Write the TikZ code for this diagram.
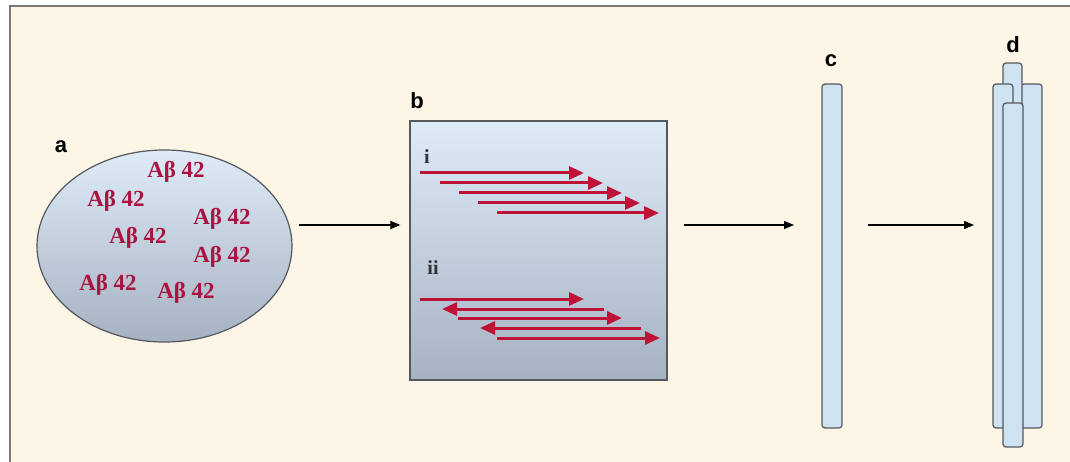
\documentclass[tikz,border=0pt]{standalone}
\usepackage{fontspec}
\setmainfont{Liberation Serif}
\setsansfont{Liberation Sans}
\usetikzlibrary{arrows.meta,calc,shapes.geometric}
\definecolor{paper}{RGB}{253,245,229}
\definecolor{framegray}{RGB}{120,120,120}
\definecolor{edge}{RGB}{85,88,95}
\definecolor{skytop}{RGB}{222,235,247}
\definecolor{skybot}{RGB}{166,178,194}
\definecolor{rodblue}{RGB}{206,226,242}
\definecolor{abred}{RGB}{170,20,65}
\definecolor{strand}{RGB}{190,18,55}
\tikzset{
  panel/.style={font=\sffamily\bfseries\fontsize{22}{24}\selectfont, inner sep=0pt},
  peptide/.style={font=\bfseries\fontsize{23}{26}\selectfont, text=abred, inner sep=0pt},
  roman/.style={font=\bfseries\fontsize{20}{22}\selectfont, text=black!80, inner sep=0pt},
  flow/.style={line width=1.2pt, black, -{Triangle[length=10pt,width=8pt]}},
  sheetline/.style={line width=3pt, strand},
  fwd/.style={sheetline, -{Triangle[length=15pt,width=13pt]}},
  bwd/.style={sheetline, {Triangle[length=15pt,width=13pt]}-},
  rod/.style={draw=edge, line width=1.2pt, fill=rodblue, rounded corners=3pt}
}
\begin{document}
\begin{tikzpicture}[x=1pt,y=-1pt]
\useasboundingbox (0,0) rectangle (1070,462);
\fill[white] (0,0) rectangle (1070,462);
\fill[paper] (10,6) rectangle (1070,462);
\draw[framegray, line width=2pt] (10,462) -- (10,6) -- (1070,6);

% monomer pool
\node[ellipse, draw=edge, line width=1.2pt, top color=skytop, bottom color=skybot,
      minimum width=255pt, minimum height=192pt, inner sep=0pt] (A) at (164.5,246) {};
\node[panel] (la) at (61,147) {a};
\node[peptide] (p1) at (176,172) {Aβ 42};
\node[peptide] (p2) at (116,201) {Aβ 42};
\node[peptide] (p3) at (222,219) {Aβ 42};
\node[peptide] (p4) at (138,238) {Aβ 42};
\node[peptide] (p5) at (222,257) {Aβ 42};
\node[peptide] (p6) at (108,285) {Aβ 42};
\node[peptide] (p7) at (186,293) {Aβ 42};

% beta-sheet panel
\node[draw=edge, line width=1.2pt, top color=skytop, bottom color=skybot,
      minimum width=257pt, minimum height=259pt, inner sep=0pt] (B) at (538.5,250.5) {};
\node[panel] (lb) at (417,101) {b};
\node[roman] (ri) at (427,157) {i};
\node[roman] (rii) at (433,268) {ii};

% parallel strands
\draw[fwd] (420,173) -- (584,173);
\draw[fwd] (440,183) -- (603,183);
\draw[fwd] (459,193) -- (622,193);
\draw[fwd] (478,203) -- (640,203);
\draw[fwd] (497,213) -- (659,213);

% antiparallel strands
\draw[fwd] (420,299) -- (584,299);
\draw[bwd] (442,309) -- (604,309);
\draw[fwd] (458,318) -- (622,318);
\draw[bwd] (480,328) -- (641,328);
\draw[fwd] (497,338) -- (660,338);

% single protofilament
\draw[rod] (822,84) rectangle (842,428);
\coordinate (C) at (832,256);
\node[panel] (lc) at (831,61) {c};

% mature fibril
\draw[rod] (1021,84) rectangle (1042,428);
\draw[rod] (1003,63) rectangle (1022,200);
\draw[rod] (993,84) rectangle (1013,428);
\draw[rod] (1003,103) rectangle (1023,447);
\coordinate (D) at (993,256);
\node[panel] (ld) at (1013,45) {d};

% assembly steps
\coordinate (row) at (0,225);
\draw[flow] ($(A.east|-row)+(6,0)$) -- ($(B.west|-row)+(-9,0)$);
\draw[flow] ($(B.east|-row)+(16,0)$) -- ($(C|-row)+(-38,0)$);
\draw[flow] ($(C|-row)+(36,0)$) -- ($(D|-row)+(-19,0)$);
\end{tikzpicture}
\end{document}
